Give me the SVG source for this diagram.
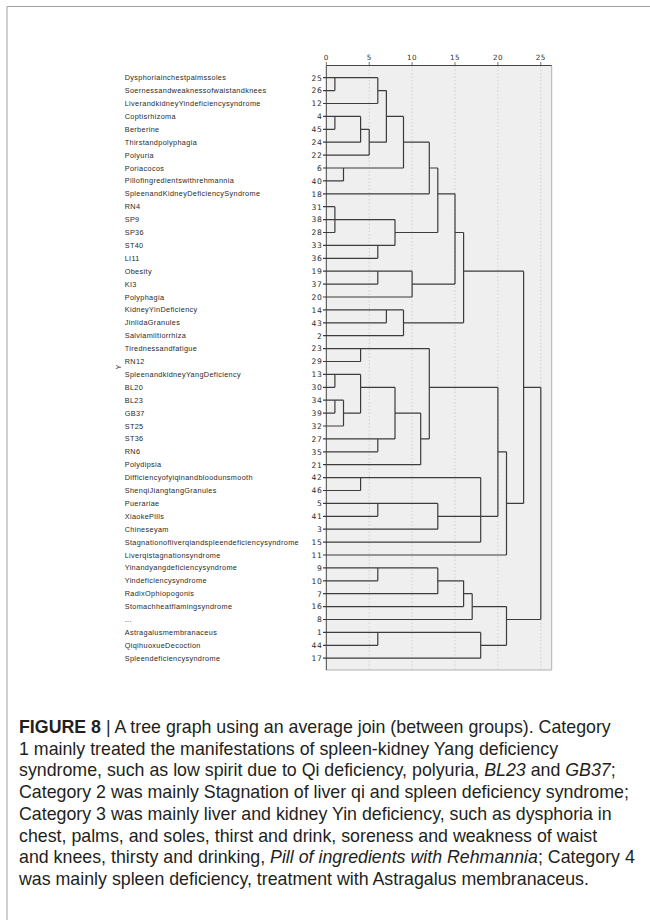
<svg xmlns="http://www.w3.org/2000/svg" width="650" height="920" viewBox="0 0 650 920">
<style>
.lb{font-family:"Liberation Sans",Arial,sans-serif;font-size:7.3px;letter-spacing:0.35px;fill:#2a2a2a}
.nm{font-family:"DejaVu Sans","Liberation Sans",sans-serif;font-size:7.6px;letter-spacing:0.7px;fill:#2a2a2a;text-anchor:end}
.ax{font-family:"DejaVu Sans","Liberation Sans",sans-serif;font-size:7.2px;letter-spacing:0.4px;fill:#333;text-anchor:middle}
.cap{font-family:"Liberation Sans",Arial,sans-serif;font-size:17.8px;fill:#231f20}
.ln{fill:none;stroke:#3c3c3c;stroke-width:1.2}
.grid{stroke:#c8c8c8;stroke-width:0.8;stroke-dasharray:1.5 2}
</style>
<rect width="650" height="920" fill="#fff"/>
<path d="M7,920 V6.5 H650" fill="none" stroke="#a0a0a0" stroke-width="1"/>
<g id="plot">
<rect x="326.3" y="65.5" width="225.4" height="604.5" fill="#efefef"/>
<path d="M551.7,65.5 V670 H326.3" fill="none" stroke="#b0b0b0" stroke-width="1"/>
<path d="M326.3,670 V65.5 H551.7" fill="none" stroke="#444" stroke-width="1"/>
<g class="grid">
<line x1="369.2" y1="66" x2="369.2" y2="670"/>
<line x1="412.1" y1="66" x2="412.1" y2="670"/>
<line x1="455" y1="66" x2="455" y2="670"/>
<line x1="497.9" y1="66" x2="497.9" y2="670"/>
<line x1="540.8" y1="66" x2="540.8" y2="670"/>
</g>
<path d="M326.3,62 V65.5 M369.2,62 V65.5 M412.1,62 V65.5 M455,62 V65.5 M497.9,62 V65.5 M540.8,62 V65.5" stroke="#555" stroke-width="0.8"/>
<text class="ax" x="326.3" y="60">0</text>
<text class="ax" x="369.2" y="60">5</text>
<text class="ax" x="412.1" y="60">10</text>
<text class="ax" x="455" y="60">15</text>
<text class="ax" x="497.9" y="60">20</text>
<text class="ax" x="540.8" y="60">25</text>
<text class="lb" transform="translate(121,367) rotate(-90)" text-anchor="middle">Y</text>
</g>
<g id="leaves">
<g id="n25"><text class="lb" x="124.7" y="80.2">Dysphoriainchestpalmssoles</text><text class="nm" x="322.5" y="80.5">25</text></g>
<g id="n26"><text class="lb" x="124.7" y="93.1">Soernessandweaknessofwaistandknees</text><text class="nm" x="322.5" y="93.4">26</text></g>
<g id="n12"><text class="lb" x="124.7" y="106">LiverandkidneyYindeficiencysyndrome</text><text class="nm" x="322.5" y="106.3">12</text></g>
<g id="n4"><text class="lb" x="124.7" y="118.9">Coptisrhizoma</text><text class="nm" x="322.5" y="119.2">4</text></g>
<g id="n45"><text class="lb" x="124.7" y="131.8">Berberine</text><text class="nm" x="322.5" y="132.1">45</text></g>
<g id="n24"><text class="lb" x="124.7" y="144.7">Thirstandpolyphagia</text><text class="nm" x="322.5" y="145">24</text></g>
<g id="n22"><text class="lb" x="124.7" y="157.6">Polyuria</text><text class="nm" x="322.5" y="157.9">22</text></g>
<g id="n6"><text class="lb" x="124.7" y="170.5">Poriacocos</text><text class="nm" x="322.5" y="170.8">6</text></g>
<g id="n40"><text class="lb" x="124.7" y="183.4">Pillofingredientswithrehmannia</text><text class="nm" x="322.5" y="183.7">40</text></g>
<g id="n18"><text class="lb" x="124.7" y="196.3">SpleenandKidneyDeficiencySyndrome</text><text class="nm" x="322.5" y="196.6">18</text></g>
<g id="n31"><text class="lb" x="124.7" y="209.2">RN4</text><text class="nm" x="322.5" y="209.5">31</text></g>
<g id="n38"><text class="lb" x="124.7" y="222.1">SP9</text><text class="nm" x="322.5" y="222.4">38</text></g>
<g id="n28"><text class="lb" x="124.7" y="235">SP36</text><text class="nm" x="322.5" y="235.3">28</text></g>
<g id="n33"><text class="lb" x="124.7" y="247.9">ST40</text><text class="nm" x="322.5" y="248.2">33</text></g>
<g id="n36"><text class="lb" x="124.7" y="260.8">LI11</text><text class="nm" x="322.5" y="261.1">36</text></g>
<g id="n19"><text class="lb" x="124.7" y="273.7">Obesity</text><text class="nm" x="322.5" y="274">19</text></g>
<g id="n37"><text class="lb" x="124.7" y="286.6">KI3</text><text class="nm" x="322.5" y="286.9">37</text></g>
<g id="n20"><text class="lb" x="124.7" y="299.5">Polyphagia</text><text class="nm" x="322.5" y="299.8">20</text></g>
<g id="n14"><text class="lb" x="124.7" y="312.4">KidneyYinDeficiency</text><text class="nm" x="322.5" y="312.7">14</text></g>
<g id="n43"><text class="lb" x="124.7" y="325.3">JinlidaGranules</text><text class="nm" x="322.5" y="325.6">43</text></g>
<g id="n2"><text class="lb" x="124.7" y="338.2">Salviamiltiorrhiza</text><text class="nm" x="322.5" y="338.5">2</text></g>
<g id="n23"><text class="lb" x="124.7" y="351.1">Tirednessandfatigue</text><text class="nm" x="322.5" y="351.4">23</text></g>
<g id="n29"><text class="lb" x="124.7" y="364">RN12</text><text class="nm" x="322.5" y="364.3">29</text></g>
<g id="n13"><text class="lb" x="124.7" y="376.9">SpleenandkidneyYangDeficiency</text><text class="nm" x="322.5" y="377.2">13</text></g>
<g id="n30"><text class="lb" x="124.7" y="389.8">BL20</text><text class="nm" x="322.5" y="390.1">30</text></g>
<g id="n34"><text class="lb" x="124.7" y="402.7">BL23</text><text class="nm" x="322.5" y="403">34</text></g>
<g id="n39"><text class="lb" x="124.7" y="415.6">GB37</text><text class="nm" x="322.5" y="415.9">39</text></g>
<g id="n32"><text class="lb" x="124.7" y="428.5">ST25</text><text class="nm" x="322.5" y="428.8">32</text></g>
<g id="n27"><text class="lb" x="124.7" y="441.4">ST36</text><text class="nm" x="322.5" y="441.7">27</text></g>
<g id="n35"><text class="lb" x="124.7" y="454.3">RN6</text><text class="nm" x="322.5" y="454.6">35</text></g>
<g id="n21"><text class="lb" x="124.7" y="467.2">Polydipsia</text><text class="nm" x="322.5" y="467.5">21</text></g>
<g id="n42"><text class="lb" x="124.7" y="480.1">Difficiencyofyiqinandbloodunsmooth</text><text class="nm" x="322.5" y="480.4">42</text></g>
<g id="n46"><text class="lb" x="124.7" y="493">ShenqiJiangtangGranules</text><text class="nm" x="322.5" y="493.3">46</text></g>
<g id="n5"><text class="lb" x="124.7" y="505.9">Puerariae</text><text class="nm" x="322.5" y="506.2">5</text></g>
<g id="n41"><text class="lb" x="124.7" y="518.8">XiaokePills</text><text class="nm" x="322.5" y="519.1">41</text></g>
<g id="n3"><text class="lb" x="124.7" y="531.7">Chineseyam</text><text class="nm" x="322.5" y="532">3</text></g>
<g id="n15"><text class="lb" x="124.7" y="544.6">Stagnationofliverqiandspleendeficiencysyndrome</text><text class="nm" x="322.5" y="544.9">15</text></g>
<g id="n11"><text class="lb" x="124.7" y="557.5">Liverqistagnationsyndrome</text><text class="nm" x="322.5" y="557.8">11</text></g>
<g id="n9"><text class="lb" x="124.7" y="570.4">Yinandyangdeficiencysyndrome</text><text class="nm" x="322.5" y="570.7">9</text></g>
<g id="n10"><text class="lb" x="124.7" y="583.3">Yindeficiencysyndrome</text><text class="nm" x="322.5" y="583.6">10</text></g>
<g id="n7"><text class="lb" x="124.7" y="596.2">RadixOphiopogonis</text><text class="nm" x="322.5" y="596.5">7</text></g>
<g id="n16"><text class="lb" x="124.7" y="609.1">Stomachheatflamingsyndrome</text><text class="nm" x="322.5" y="609.4">16</text></g>
<g id="n8"><text class="lb" x="124.7" y="622">...</text><text class="nm" x="322.5" y="622.3">8</text></g>
<g id="n1"><text class="lb" x="124.7" y="634.9">Astragalusmembranaceus</text><text class="nm" x="322.5" y="635.2">1</text></g>
<g id="n44"><text class="lb" x="124.7" y="647.8">QiqihuoxueDecoction</text><text class="nm" x="322.5" y="648.1">44</text></g>
<g id="n17"><text class="lb" x="124.7" y="660.7">Spleendeficiencysyndrome</text><text class="nm" x="322.5" y="661">17</text></g>
</g>
<g id="connectors" class="ln">
<path d="M323,77.7H377.8 M323,90.6H334.9 M323,103.5H377.8 M323,116.4H360.6 M323,129.3H334.9 M323,142.2H360.6 M323,155.1H369.2 M323,168H403.5 M323,180.9H343.5 M323,193.8H429.3 M323,206.7H334.9 M323,219.6H395 M323,232.5H334.9 M323,245.4H395 M323,258.3H377.8 M323,271.2H412.1 M323,284.1H377.8 M323,297H412.1 M323,309.9H403.5 M323,322.8H386.4 M323,335.7H403.5 M323,348.6H429.3 M323,361.5H360.6 M323,374.4H360.6 M323,387.3H334.9 M323,400.2H343.5 M323,413.1H334.9 M323,426H343.5 M323,438.9H395 M323,451.8H377.8 M323,464.7H420.7 M323,477.6H480.7 M323,490.5H360.6 M323,503.4H437.8 M323,516.3H377.8 M323,529.2H437.8 M323,542.1H480.7 M323,555H506.5 M323,567.9H437.8 M323,580.8H377.8 M323,593.7H437.8 M323,606.6H463.6 M323,619.5H472.2 M323,632.4H480.7 M323,645.3H377.8 M323,658.2H480.7"/>
<path d="M334.9,77.7V90.6 M334.9,116.4V129.3 M334.9,206.7V232.5 M334.9,374.4V387.3 M334.9,400.2V413.1 M343.5,168V180.9 M343.5,400.2V426 M360.6,116.4V142.2 M360.6,348.6V361.5 M360.6,374.4V413.1 M360.6,477.6V490.5 M369.2,129.3V155.1 M377.8,77.7V103.5 M377.8,245.4V258.3 M377.8,271.2V284.1 M377.8,438.9V451.8 M377.8,503.4V516.3 M377.8,567.9V580.8 M377.8,632.4V645.3 M386.4,90.6V142.2 M386.4,309.9V322.8 M395,219.6V245.4 M395,387.3V438.9 M403.5,116.4V168 M403.5,309.9V335.7 M412.1,271.2V297 M420.7,413.1V464.7 M429.3,142.2V193.8 M429.3,348.6V438.9 M437.8,168V232.5 M437.8,503.4V529.2 M437.8,567.9V593.7 M455,193.8V284.1 M463.6,232.5V322.8 M463.6,580.8V606.6 M472.2,593.7V619.5 M480.7,477.6V542.1 M480.7,632.4V658.2 M497.9,387.3V516.3 M506.5,451.8V555 M506.5,606.6V645.3 M523.6,271.2V503.4 M540.8,387.3V619.5"/>
<path d="M360.6,129.3H369.2 M377.8,90.6H386.4 M369.2,142.2H386.4 M386.4,116.4H403.5 M403.5,142.2H429.3 M429.3,168H437.8 M395,232.5H437.8 M437.8,193.8H455 M412.1,284.1H455 M455,232.5H463.6 M403.5,322.8H463.6 M463.6,271.2H523.6 M343.5,413.1H360.6 M360.6,387.3H395 M395,413.1H420.7 M420.7,438.9H429.3 M429.3,387.3H497.9 M437.8,516.3H497.9 M497.9,451.8H506.5 M506.5,503.4H523.6 M523.6,387.3H540.8 M437.8,580.8H463.6 M463.6,593.7H472.2 M472.2,606.6H506.5 M480.7,645.3H506.5 M506.5,619.5H540.8"/>
</g>
<g id="caption" class="cap">
<text x="19" y="733"><tspan font-weight="bold">FIGURE 8</tspan>  |  A tree graph using an average join (between groups). Category</text>
<text x="19" y="754.7">1 mainly treated the manifestations of spleen-kidney Yang deficiency</text>
<text x="19" y="776.4">syndrome, such as low spirit due to Qi deficiency, polyuria, <tspan font-style="italic">BL23</tspan> and <tspan font-style="italic">GB37</tspan>;</text>
<text x="19" y="798.1">Category 2 was mainly Stagnation of liver qi and spleen deficiency syndrome;</text>
<text x="19" y="819.8">Category 3 was mainly liver and kidney Yin deficiency, such as dysphoria in</text>
<text x="19" y="841.5">chest, palms, and soles, thirst and drink, soreness and weakness of waist</text>
<text x="19" y="863.2">and knees, thirsty and drinking, <tspan font-style="italic">Pill of ingredients with Rehmannia</tspan>; Category 4</text>
<text x="19" y="884.9">was mainly spleen deficiency, treatment with Astragalus membranaceus.</text>
</g>
</svg>
